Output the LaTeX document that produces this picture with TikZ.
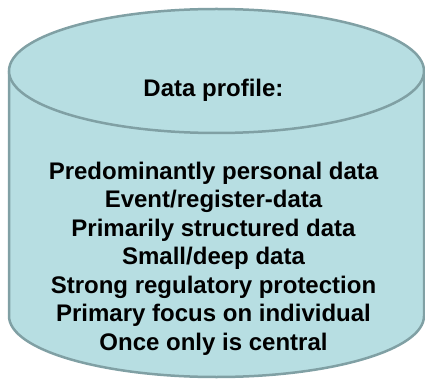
\documentclass[tikz,border=0pt]{standalone}
\usepackage{fontspec}
\setmainfont{Liberation Sans}
\definecolor{drumfill}{RGB}{183,222,226}
\definecolor{drumline}{RGB}{128,160,164}
\tikzset{
    drum/.style={draw=drumline,line width=2.5pt,fill=drumfill},
    txt/.style={inner sep=0pt,font=\bfseries\fontsize{24}{28.5}\selectfont,align=center}
}
\begin{document}
\begin{tikzpicture}[x=1pt,y=1pt]
    \useasboundingbox (0,0) rectangle (425,-379);
    \fill[drumfill] (9,-71) -- (9,-316) arc[start angle=180,end angle=360,x radius=207.5,y radius=61] -- (424,-71) arc[start angle=0,end angle=180,x radius=207.5,y radius=62] -- cycle;
    \draw[drum,fill=none] (9,-71) -- (9,-316) arc[start angle=180,end angle=360,x radius=207.5,y radius=61] -- (424,-71);
    \draw[drum] (216.5,-71) ellipse[x radius=207.5,y radius=62];
    \node[txt,anchor=base] (title) at (213.5,-97) {Data profile:};
    \node[txt] (profile) at (213.5,-258.3) {Predominantly personal data\\Event/register-data\\Primarily structured data\\Small/deep data\\Strong regulatory protection\\Primary focus on individual\\Once only is central};
\end{tikzpicture}
\end{document}
